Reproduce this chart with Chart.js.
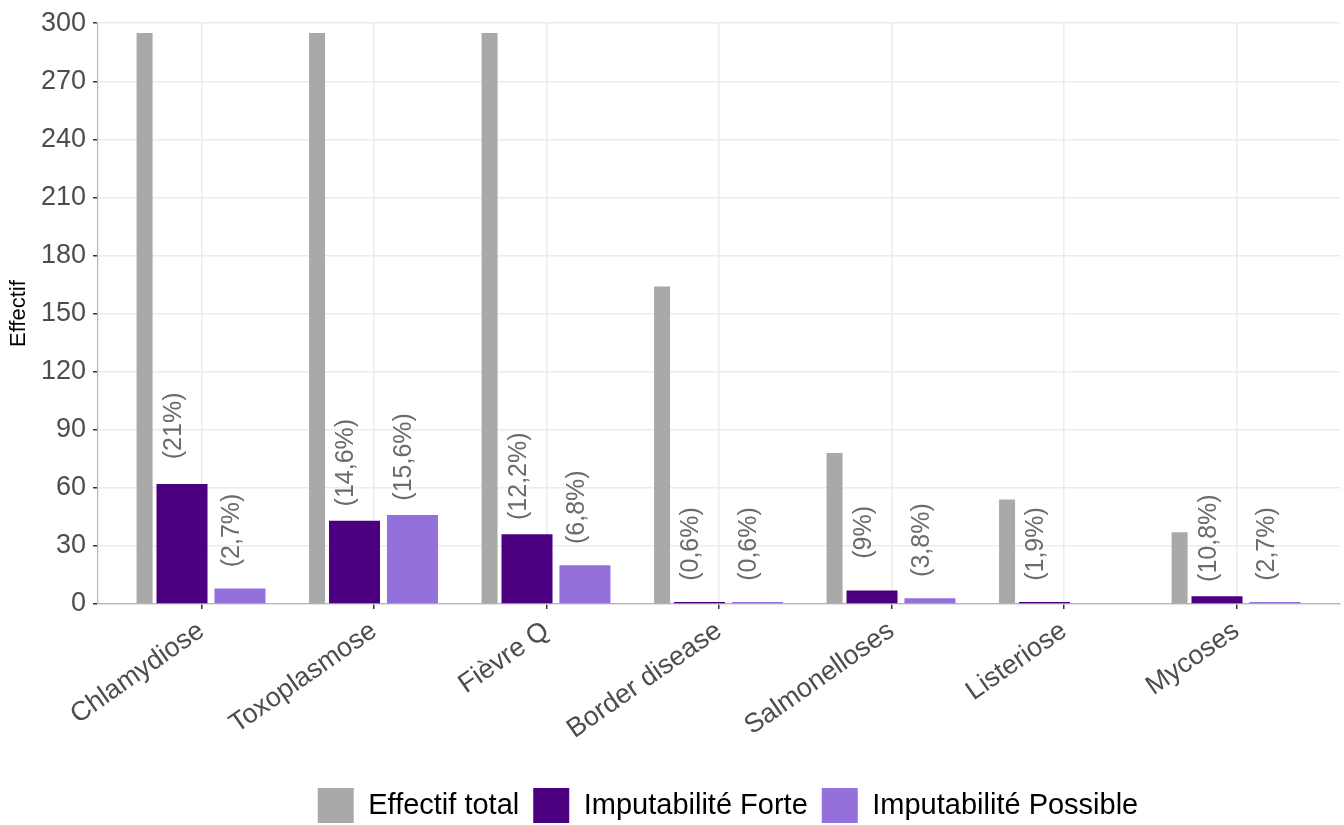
<!DOCTYPE html>
<html>
<head>
<meta charset="utf-8">
<script src="https://cdn.jsdelivr.net/npm/chart.js@4"></script>
<style>
  html, body { margin: 0; padding: 0; background: #fff; }
  #wrap { width: 1344px; height: 825px; }
</style>
</head>
<body>
<div id="wrap"><canvas id="zoonosesChart"></canvas></div>
<script>
// --- data ---
const categories = ['Chlamydiose', 'Toxoplasmose', 'Fièvre Q', 'Border disease', 'Salmonelloses', 'Listeriose', 'Mycoses'];
const totalCases = [295, 295, 295, 164, 78, 54, 37];
const forteCases = [62, 43, 36, 1, 7, 1, 4];
const possibleCases = [8, 46, 20, 1, 3, 0, 1];
const yTicks = [0, 30, 60, 90, 120, 150, 180, 210, 240, 270, 300];

const FONT = '"Liberation Sans", Arial, sans-serif';
// dodge of each series inside a category (in category units)
const DODGE = { total: -0.33, forte: -0.113, possible: 0.223 };
const LABEL_NUDGE = 30;

const pct = (v, t) => '(' + String(Math.round(v / t * 1000) / 10).replace('.', ',') + '%)';
const toPoints = (values, shift) => values.map((v, i) => ({ x: i + shift, y: v }));

// percentage labels above the purple bars
const pctLabels = {
    id: 'pctLabels',
    afterLayout(chart) {
        // ggplot centres the legend a bit to the right of the panel centre
        chart.legend.left += 9;
        chart.legend.right += 9;
    },
    afterDatasetsDraw(chart) {
        const { ctx, scales: { y } } = chart;
        ctx.save();
        ctx.font = '25px ' + FONT;
        ctx.fillStyle = '#6b6b6b';
        ctx.textAlign = 'center';
        ctx.textBaseline = 'middle';
        [1, 2].forEach(di => {
            const meta = chart.getDatasetMeta(di);
            const values = di === 1 ? forteCases : possibleCases;
            meta.data.forEach((bar, i) => {
                if (!values[i]) return;
                ctx.save();
                ctx.translate(bar.x - 8, y.getPixelForValue(values[i] + LABEL_NUDGE));
                ctx.rotate(-Math.PI / 2);
                ctx.fillText(pct(values[i], totalCases[i]), 0, 0);
                ctx.restore();
            });
        });
        ctx.restore();
    }
};

new Chart(document.getElementById('zoonosesChart'), {
    type: 'bar',
    data: {
        datasets: [
            { label: 'Effectif total', data: toPoints(totalCases, DODGE.total), backgroundColor: '#a9a9a9', maxBarThickness: 16 },
            { label: 'Imputabilité Forte', data: toPoints(forteCases, DODGE.forte), backgroundColor: '#4b0082', maxBarThickness: 51 },
            { label: 'Imputabilité Possible', data: toPoints(possibleCases, DODGE.possible), backgroundColor: '#9370db', maxBarThickness: 51 }
        ]
    },
    options: {
        responsive: true,
        maintainAspectRatio: false,
        animation: false,
        grouped: false,
        barPercentage: 2,
        layout: { padding: { top: 22, right: 4, left: 0, bottom: -8 } },
        scales: {
            x: {
                type: 'linear',
                offset: false,
                min: -0.6,
                max: categories.length - 0.4,
                afterBuildTicks: (scale) => { scale.ticks = categories.map((_, i) => ({ value: i })); },
                afterFit: (scale) => { scale.height = 170; },
                grid: { offset: false, color: '#ebebeb', lineWidth: 1.5, tickColor: '#333', tickLength: 5 },
                border: { display: true, color: '#b5b5b5', width: 1.2 },
                ticks: {
                    autoSkip: false,
                    minRotation: 35,
                    maxRotation: 35,
                    padding: 6,
                    color: '#4d4d4d',
                    font: { family: FONT, size: 27 },
                    callback: (v) => categories[v] ?? ''
                }
            },
            y: {
                min: 0,
                max: 300,
                afterBuildTicks: (scale) => {
                    const minor = yTicks.slice(0, -1).map(v => v + 15);
                    scale.ticks = [...yTicks, ...minor].sort((a, b) => a - b).map(v => ({ value: v }));
                },
                afterFit: (scale) => { scale.width = 98; },
                grid: {
                    color: (c) => c.tick && c.tick.value % 30 === 0 ? '#ebebeb' : '#f3f3f3',
                    lineWidth: (c) => c.tick && c.tick.value % 30 === 0 ? 1.5 : 0.8,
                    tickColor: (c) => c.tick && c.tick.value % 30 === 0 ? '#333' : 'rgba(0,0,0,0)',
                    tickLength: 5
                },
                border: { display: true, color: '#b5b5b5', width: 1.2 },
                ticks: {
                    padding: 7,
                    color: '#4d4d4d',
                    font: { family: FONT, size: 27 },
                    callback: (v) => v % 30 === 0 ? v : ''
                },
                title: {
                    display: true,
                    text: 'Effectif',
                    color: '#000',
                    font: { family: FONT, size: 22 },
                    padding: { top: 6, bottom: 0 }
                }
            }
        },
        plugins: {
            legend: {
                position: 'bottom',
                fullSize: false,
                labels: {
                    boxWidth: 36,
                    boxHeight: 35,
                    padding: 14,
                    color: '#000',
                    font: { family: FONT, size: 29 }
                }
            },
            tooltip: { enabled: false }
        }
    },
    plugins: [pctLabels]
});
</script>
</body>
</html>
